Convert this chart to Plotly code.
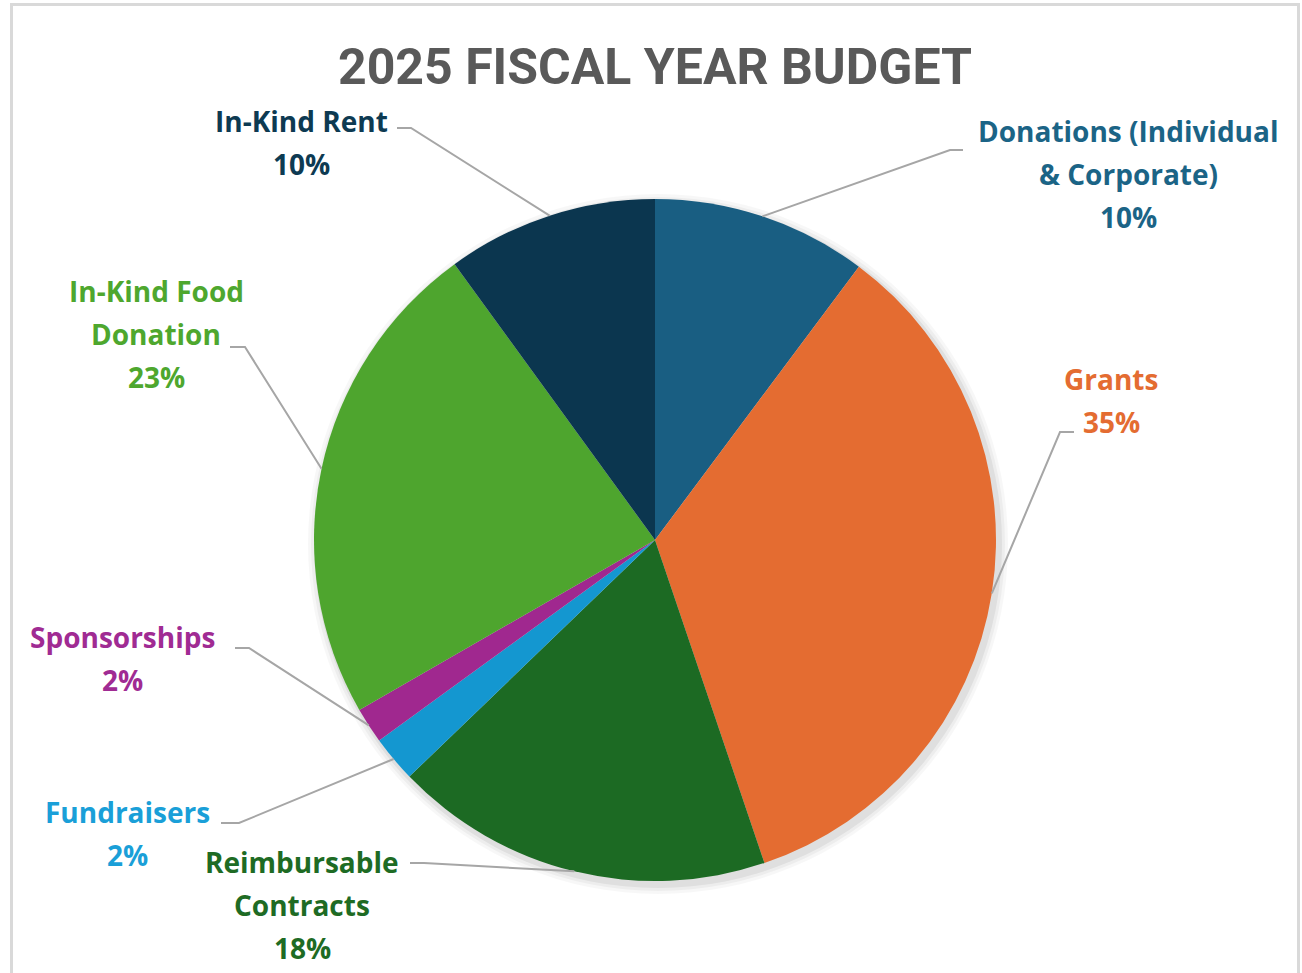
import math
import plotly.graph_objects as go

# ---------------- data ----------------
categories = ["Donations (Individual & Corporate)", "Grants", "Reimbursable Contracts",
              "Fundraisers", "Sponsorships", "In-Kind Food Donation", "In-Kind Rent"]
values = [10.2, 34.6, 18.0, 2.2, 1.7, 23.3, 10.0]
slice_colors = ["#195e82", "#e46c31", "#1c6a23", "#1497d0", "#a0288f", "#4ea52e", "#0b364f"]
label_colors = ["#1b6486", "#e46c31", "#1e6b24", "#1a9fd8", "#a02b93", "#4ea72e", "#0d3a52"]
label_lines = [["Donations (Individual", "& Corporate)"], ["Grants"], ["Reimbursable", "Contracts"],
               ["Fundraisers"], ["Sponsorships"], ["In-Kind Food", "Donation"], ["In-Kind Rent"]]
title_text = "2025 FISCAL YEAR BUDGET"

# ---------------- layout constants (window pixels) ----------------
W, H = 1302, 973
CX, CY, R = 655, 540, 341
LINE_GAP = 43
# label block: centre x, first-line centre y, stub start, stub end
label_pos = [
    (1128, 131, (963, 150), (950, 150)),
    (1111, 379, (1074, 432), (1060, 432)),
    (302, 862, (410, 863), (424, 863)),
    (127, 812, (221, 823), (239, 823)),
    (123, 637, (235, 648), (249, 648)),
    (156, 291, (230, 347), (245, 347)),
    (301, 121, (397, 128), (411, 128)),
]
LABEL_FONT = "'Open Sans', Lato, sans-serif"
LABEL_SIZE = 28


def px(x):
    return x / W


def py(y):
    return 1 - y / H


total = sum(values)
pcts = [round(v / total * 100) for v in values]

fig = go.Figure()
fig.add_trace(go.Pie(
    labels=categories, values=values, sort=False, direction="clockwise", rotation=0,
    marker=dict(colors=slice_colors, line=dict(width=0)),
    textinfo="none", hoverinfo="label+percent", showlegend=False,
    domain=dict(x=[px(CX - R), px(CX + R)], y=[py(CY + R), py(CY - R)]),
))

shapes = []
# soft shadow behind pie
for grow, op in [(9, 0.03), (6, 0.04), (3, 0.06)]:
    shapes.append(dict(type="circle", xref="paper", yref="paper", layer="below",
                       x0=px(CX - R - grow + 3), x1=px(CX + R + grow + 3),
                       y0=py(CY + R + grow + 4), y1=py(CY - R - grow + 4),
                       fillcolor=f"rgba(0,0,0,{op})", line=dict(width=0)))
# chart frame
shapes.append(dict(type="rect", xref="paper", yref="paper", layer="below",
                   x0=px(11.5), x1=px(1298.5), y0=py(995), y1=py(4.5),
                   line=dict(color="#d9d9d9", width=3), fillcolor="rgba(0,0,0,0)"))

annotations = [dict(text=f"<b>{title_text}</b>", x=px(655), y=py(67), xref="paper", yref="paper",
                    showarrow=False, xanchor="center", yanchor="middle",
                    font=dict(family="Roboto, sans-serif", size=50, color="#595959"))]

cum = 0.0
for i, v in enumerate(values):
    mid = (cum + v / 2) / total * 2 * math.pi
    cum += v
    ax = CX + R * math.sin(mid)
    ay = CY - R * math.cos(mid)
    cxl, y0, s0, s1 = label_pos[i]
    path = f"M {px(s0[0])},{py(s0[1])} L {px(s1[0])},{py(s1[1])} L {px(ax)},{py(ay)}"
    shapes.append(dict(type="path", xref="paper", yref="paper", path=path,
                       line=dict(color="#a6a6a6", width=2)))
    lines = label_lines[i] + [f"{pcts[i]}%"]
    for k, t in enumerate(lines):
        annotations.append(dict(text=f"<b>{t}</b>", x=px(cxl), y=py(y0 + k * LINE_GAP),
                                xref="paper", yref="paper", showarrow=False,
                                xanchor="center", yanchor="middle",
                                font=dict(family=LABEL_FONT, size=LABEL_SIZE,
                                          color=label_colors[i])))

fig.update_layout(
    width=W, height=H, autosize=False,
    margin=dict(l=0, r=0, t=0, b=0),
    paper_bgcolor="white", plot_bgcolor="white",
    shapes=shapes, annotations=annotations,
)
fig.write_html("out.html", config={"displayModeBar": False},
               post_script="document.body.style.margin='0';document.body.style.overflow='hidden';")
